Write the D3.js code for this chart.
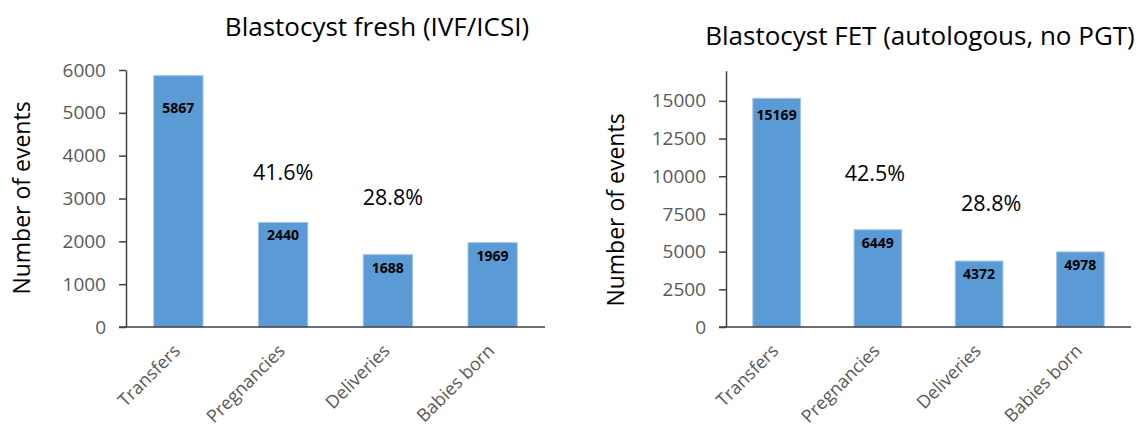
<!DOCTYPE html>
<html lang="en">
<head>
<meta charset="UTF-8">
<title>Blastocyst transfers</title>
<script src="https://d3js.org/d3.v7.min.js"></script>
<style>
  body { margin: 0; background: #fff; }
  svg { display: block; font-family: "Open Sans", "Noto Sans", sans-serif; }
</style>
</head>
<body>
<svg id="chart" width="1136" height="431"></svg>
<script>
// categories shared by both panels
var categories = ["Transfers", "Pregnancies", "Deliveries", "Babies born"];

// fresh blastocyst (IVF/ICSI)
var freshValues = [5867, 2440, 1688, 1969];
var freshTicks = [0, 1000, 2000, 3000, 4000, 5000, 6000];
var freshRates = ["41.6%", "28.8%"];   // sits over Pregnancies, Deliveries

// frozen blastocyst (FET, autologous, no PGT)
var fetValues = [15169, 6449, 4372, 4978];
var fetTicks = [0, 2500, 5000, 7500, 10000, 12500, 15000];
var fetRates = ["42.5%", "28.8%"];

var svg = d3.select("#chart");
var barColor = "#5b9bd5";
var gray = "#595959";

// one panel = one bar chart
function drawPanel(opt) {
    var x = d3.scaleBand()
        .domain(categories)
        .range([opt.left, opt.right])
        .paddingInner(0.53)
        .paddingOuter(0.265);

    var y = d3.scaleLinear()
        .domain([0, opt.max])
        .range([opt.bottom, opt.top]);

    var g = svg.append("g");

    // title
    g.append("text")
        .attr("x", opt.titleX)
        .attr("y", opt.titleY)
        .attr("text-anchor", "middle")
        .attr("dy", "0.35em")
        .style("font-size", "26px")
        .attr("fill", "#000")
        .text(opt.title);

    // y axis label
    g.append("text")
        .attr("transform", "translate(" + opt.labelX + "," + opt.labelY + ") rotate(-90)")
        .attr("text-anchor", "middle")
        .attr("dy", "0.35em")
        .style("font-size", "23px")
        .attr("fill", "#000")
        .text("Number of events");

    // bars
    g.selectAll("rect.bar")
        .data(opt.values)
        .enter()
        .append("rect")
        .attr("class", "bar")
        .attr("x", function(d, i) { return x(categories[i]); })
        .attr("y", function(d) { return y(d); })
        .attr("width", x.bandwidth())
        .attr("height", function(d) { return y(0) - y(d); })
        .attr("fill", barColor)
        .attr("stroke", "#9dc3e6")
        .attr("stroke-width", 1);

    // value labels inside the bars
    g.selectAll("text.val")
        .data(opt.values)
        .enter()
        .append("text")
        .attr("class", "val")
        .attr("x", function(d, i) { return x(categories[i]) + x.bandwidth() / 2; })
        .attr("y", function(d, i) { return y(d) + (i === 0 ? opt.firstDrop : 13); })
        .attr("dy", "0.35em")
        .attr("text-anchor", "middle")
        .style("font-size", "14px")
        .style("font-weight", "bold")
        .attr("fill", "#000")
        .text(function(d) { return d; });

    // conversion rates above Pregnancies and Deliveries
    g.selectAll("text.rate")
        .data(opt.rates)
        .enter()
        .append("text")
        .attr("class", "rate")
        .attr("x", function(d, i) { return x(categories[i + 1]) + x.bandwidth() / 2 + opt.rateDx[i]; })
        .attr("y", function(d, i) { return y(opt.values[i + 1]) - opt.rateUp[i]; })
        .attr("dy", "0.35em")
        .attr("text-anchor", "middle")
        .style("font-size", "21.5px")
        .attr("fill", "#000")
        .text(function(d) { return d; });

    // y axis
    var yAxis = g.append("g")
        .attr("transform", "translate(" + opt.left + ",0)")
        .call(d3.axisLeft(y).tickValues(opt.ticks).tickFormat(d3.format("d"))
            .tickSize(7).tickPadding(13).tickSizeOuter(0));
    yAxis.select(".domain").attr("stroke", "#404040").attr("stroke-width", 1.5);
    yAxis.selectAll(".tick line").attr("stroke", "#404040").attr("stroke-width", 1.5);
    yAxis.selectAll(".tick text")
        .attr("fill", gray)
        .style("font-size", "19px")
        .style("font-family", "\"Open Sans\", sans-serif");

    // x axis, labels slanted 45deg
    var xAxis = g.append("g")
        .attr("transform", "translate(0," + opt.bottom + ")")
        .call(d3.axisBottom(x).tickSize(0).tickSizeOuter(0).tickPadding(0));
    xAxis.select(".domain")
        .attr("d", "M" + (opt.left - 7) + ",0H" + opt.right)
        .attr("stroke", "#404040").attr("stroke-width", 1.5);
    xAxis.selectAll(".tick text")
        .attr("fill", gray)
        .style("font-size", "18px")
        .style("font-family", "\"Open Sans\", sans-serif")
        .attr("text-anchor", "end")
        .attr("transform", "translate(3,25) rotate(-45)")
        .attr("y", 0)
        .attr("dy", 0);
}

drawPanel({
    title: "Blastocyst fresh (IVF/ICSI)",
    titleX: 377, titleY: 27,
    labelX: 22, labelY: 198,
    left: 126, right: 545, top: 70, bottom: 327,
    max: 6000, ticks: freshTicks,
    values: freshValues, rates: freshRates,
    firstDrop: 32, rateDx: [0, 5], rateUp: [50, 57]
});

drawPanel({
    title: "Blastocyst FET (autologous, no PGT)",
    titleX: 920, titleY: 36,
    labelX: 616, labelY: 210,
    left: 726, right: 1131, top: 70.7, bottom: 327,
    max: 17000, ticks: fetTicks,
    values: fetValues, rates: fetRates,
    firstDrop: 17, rateDx: [-3, 12], rateUp: [56, 58]
});
</script>
</body>
</html>
